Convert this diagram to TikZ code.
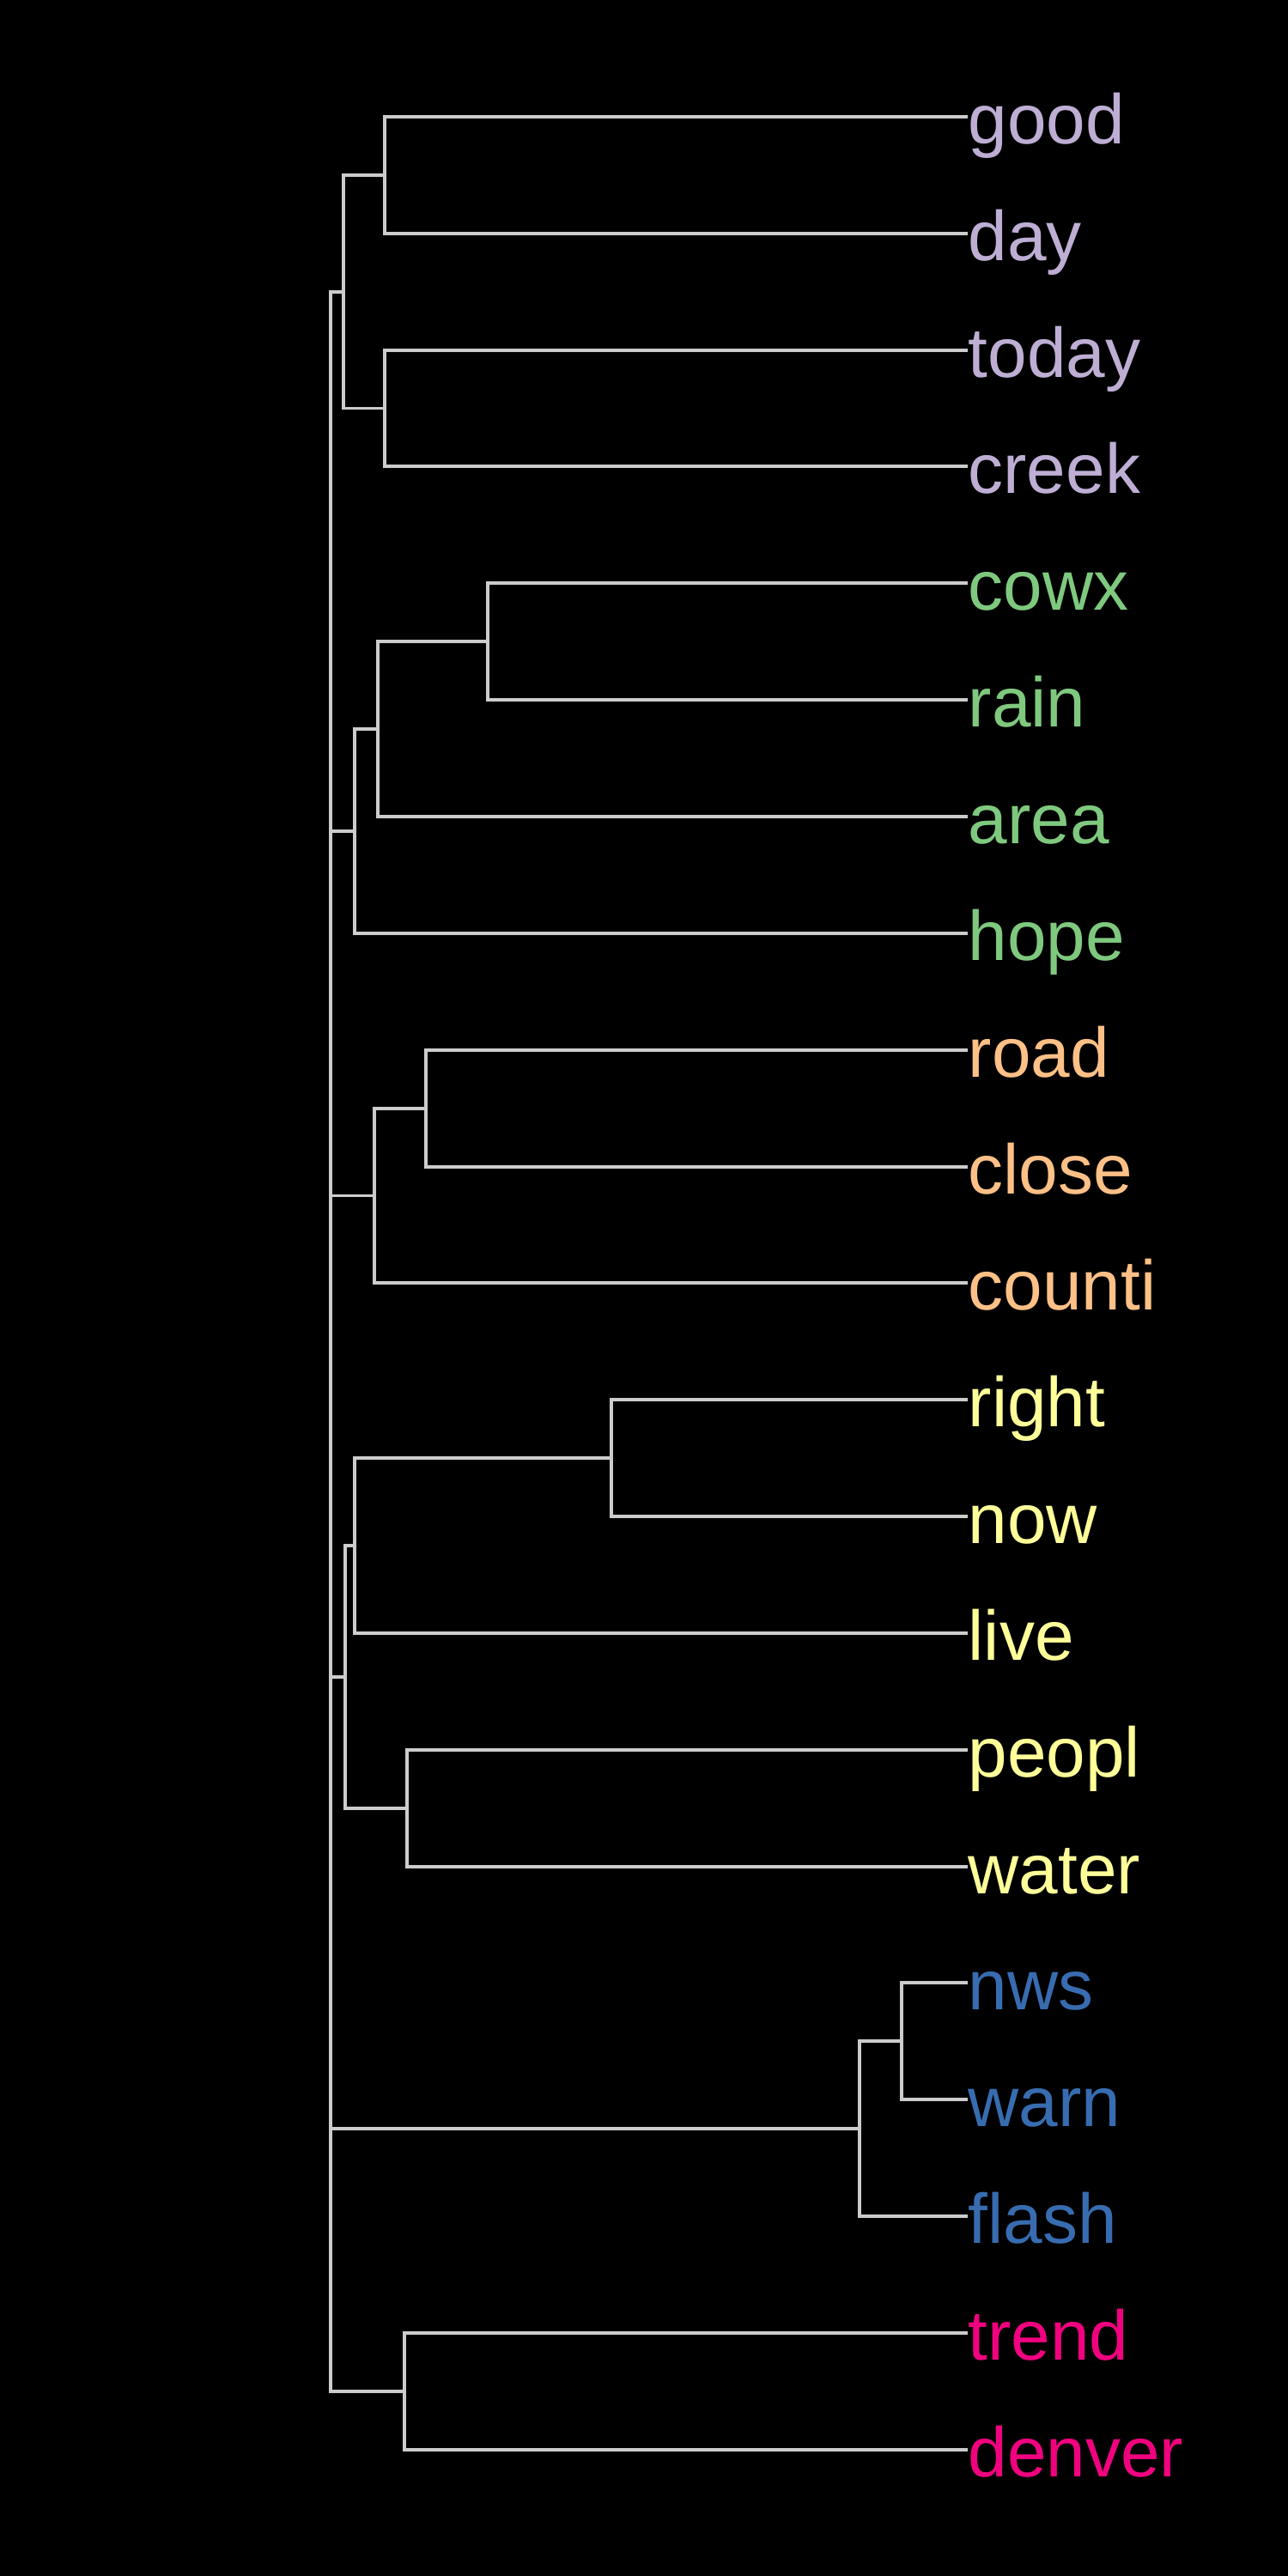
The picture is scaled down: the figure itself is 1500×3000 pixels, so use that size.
\documentclass[tikz,border=0pt]{standalone}
\usepackage{fontspec}
\setmainfont{Liberation Sans}
\definecolor{lavender}{HTML}{BEAED4}
\definecolor{accgreen}{HTML}{7FC97F}
\definecolor{accorange}{HTML}{FDC086}
\definecolor{accyellow}{HTML}{FFFF99}
\definecolor{accblue}{HTML}{386CB0}
\definecolor{accpink}{HTML}{F0027F}
\definecolor{branchgray}{RGB}{204,204,204}
\begin{document}
\begin{tikzpicture}[x=0.01cm,y=-0.01cm,
    branch/.style={draw=branchgray,line width=1.1pt},
    leaf/.style={anchor=west,inner sep=0pt,text height=17.8pt,text depth=0pt,
        font={\fontsize{23.3}{27}\selectfont}}]
\useasboundingbox (0,0) rectangle (1500,3000);
\fill[black] (0,0) rectangle (1500,3000);

\node[leaf,lavender] (good) at (1127,136) {good};
\node[leaf,lavender] (day) at (1127,272) {day};
\node[leaf,lavender] (today) at (1127,408) {today};
\node[leaf,lavender] (creek) at (1127,543) {creek};
\node[leaf,accgreen] (cowx) at (1127,679) {cowx};
\node[leaf,accgreen] (rain) at (1127,815) {rain};
\node[leaf,accgreen] (area) at (1127,951) {area};
\node[leaf,accgreen] (hope) at (1127,1087) {hope};
\node[leaf,accorange] (road) at (1127,1223) {road};
\node[leaf,accorange] (close) at (1127,1359) {close};
\node[leaf,accorange] (counti) at (1127,1494) {counti};
\node[leaf,accyellow] (right) at (1127,1630) {right};
\node[leaf,accyellow] (now) at (1127,1766) {now};
\node[leaf,accyellow] (live) at (1127,1902) {live};
\node[leaf,accyellow] (peopl) at (1127,2038) {peopl};
\node[leaf,accyellow] (water) at (1127,2174) {water};
\node[leaf,accblue] (nws) at (1127,2309) {nws};
\node[leaf,accblue] (warn) at (1127,2445) {warn};
\node[leaf,accblue] (flash) at (1127,2581) {flash};
\node[leaf,accpink] (trend) at (1127,2717) {trend};
\node[leaf,accpink] (denver) at (1127,2853) {denver};

\coordinate (gooddayjoin) at (448,204);
\coordinate (todaycreekjoin) at (448,475.5);
\coordinate (lavenderjoin) at (400,340);
\coordinate (cowxrainjoin) at (568,747);
\coordinate (areajoin) at (440,849);
\coordinate (greenjoin) at (413,968);
\coordinate (roadclosejoin) at (496,1291);
\coordinate (orangejoin) at (436,1392.5);
\coordinate (rightnowjoin) at (712,1698);
\coordinate (livejoin) at (413,1800);
\coordinate (peopljoin) at (474,2106);
\coordinate (yellowjoin) at (402,1953);
\coordinate (nwswarnjoin) at (1050,2377);
\coordinate (bluejoin) at (1001,2479);
\coordinate (pinkjoin) at (471,2785);
\coordinate (rootA) at (385,654);
\coordinate (rootB) at (385,1023);
\coordinate (rootC) at (385,1488);
\coordinate (rootD) at (385,1983.5);
\coordinate (rootE) at (385,2384);

\draw[branch] (good.west) -| (gooddayjoin) |- (day.west);
\draw[branch] (today.west) -| (todaycreekjoin) |- (creek.west);
\draw[branch] (gooddayjoin) -| (lavenderjoin) |- (todaycreekjoin);
\draw[branch] (cowx.west) -| (cowxrainjoin) |- (rain.west);
\draw[branch] (cowxrainjoin) -| (areajoin) |- (area.west);
\draw[branch] (areajoin) -| (greenjoin) |- (hope.west);
\draw[branch] (road.west) -| (roadclosejoin) |- (close.west);
\draw[branch] (roadclosejoin) -| (orangejoin) |- (counti.west);
\draw[branch] (right.west) -| (rightnowjoin) |- (now.west);
\draw[branch] (rightnowjoin) -| (livejoin) |- (live.west);
\draw[branch] (peopl.west) -| (peopljoin) |- (water.west);
\draw[branch] (livejoin) -| (yellowjoin) |- (peopljoin);
\draw[branch] (nws.west) -| (nwswarnjoin) |- (warn.west);
\draw[branch] (nwswarnjoin) -| (bluejoin) |- (flash.west);
\draw[branch] (trend.west) -| (pinkjoin) |- (denver.west);
\draw[branch] (lavenderjoin) -| (rootA) |- (greenjoin);
\draw[branch] (rootA) |- (orangejoin);
\draw[branch] (rootB) |- (yellowjoin);
\draw[branch] (rootC) |- (bluejoin);
\draw[branch] (rootD) |- (pinkjoin);
\draw[branch] (rootA) -- (rootE);
\end{tikzpicture}
\end{document}
